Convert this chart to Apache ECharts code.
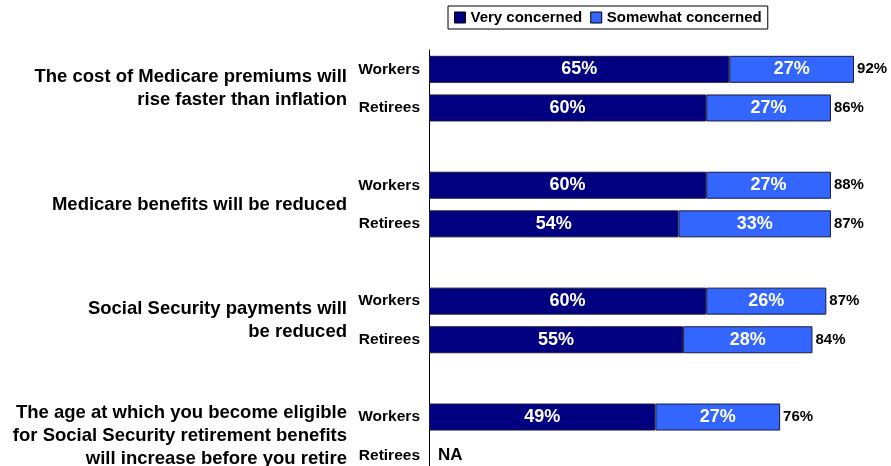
<!DOCTYPE html>
<html>
<head>
<meta charset="utf-8">
<script src="https://cdn.jsdelivr.net/npm/echarts@6/dist/echarts.min.js"></script>
<style>
html,body{margin:0;padding:0;background:#fff;}
#chart{width:891px;height:466px;}
</style>
</head>
<body>
<div id="chart"></div>
<script>
// ---- data ----
var groupTitles = [
  'The cost of Medicare premiums will\nrise faster than inflation',
  'Medicare benefits will be reduced',
  'Social Security payments will\nbe reduced',
  'The age at which you become eligible\nfor Social Security retirement benefits\nwill increase before you retire'
];
var rowNames = ['Workers', 'Retirees'];
var veryConcerned = [[65, 60], [60, 54], [60, 55], [49, null]];
var somewhatConcerned = [[27, 27], [27, 33], [26, 28], [27, null]];
var totalLabels = [['92%', '86%'], ['88%', '87%'], ['87%', '84%'], ['76%', 'NA']];
var seriesNames = ['Very concerned', 'Somewhat concerned'];

// ---- build category slots (2 rows + spacer per group) ----
var cats = [], veryData = [], someData = [], totalData = [], totalText = [], titleSlots = [];
groupTitles.forEach(function (t, g) {
  rowNames.forEach(function (r, i) {
    cats.push('c' + cats.length);
    veryData.push(veryConcerned[g][i]);
    someData.push(somewhatConcerned[g][i]);
    totalData.push(0);
    totalText.push(totalLabels[g][i]);
  });
  titleSlots.push(cats.length - 1.5);
  if (g < groupTitles.length - 1) {
    cats.push('c' + cats.length);
    veryData.push(null); someData.push(null); totalData.push(null); totalText.push('');
  }
});
var catLabel = function (v, idx) {
  var k = idx % 3;
  return k < 2 ? rowNames[k] : '';
};

var FONT = '"Liberation Sans", Arial, sans-serif';
var chart = echarts.init(document.getElementById('chart'));
var option = {
  animation: false,
  textStyle: { fontFamily: FONT },
  legend: {
    data: seriesNames,
    left: 448, top: 6,
    icon: 'rect',
    itemWidth: 11, itemHeight: 11, itemGap: 8,
    padding: [4, 6],
    borderColor: '#000', borderWidth: 1,
    itemStyle: { borderColor: '#000', borderWidth: 1 },
    textStyle: { fontFamily: FONT, fontWeight: 'bold', fontSize: 15, color: '#000' }
  },
  grid: { left: 429, right: 0, top: 50, height: 425, containLabel: false, outerBoundsMode: 'none' },
  xAxis: { type: 'value', min: 0, max: 100, show: false },
  yAxis: {
    type: 'category', data: cats, inverse: true,
    axisLine: { lineStyle: { color: '#000', width: 1 } },
    axisTick: { show: false },
    axisLabel: { formatter: catLabel, margin: 9, color: '#000', fontWeight: 'bold', fontSize: 15.5, fontFamily: FONT }
  },
  series: [
    {
      name: seriesNames[0], type: 'bar', stack: 's', data: veryData, barWidth: 27,
      itemStyle: { color: '#000080', borderColor: '#1a1a3a', borderWidth: 1 },
      label: { show: true, position: 'inside', color: '#fff', fontWeight: 'bold', fontSize: 18, fontFamily: FONT, formatter: '{c}%' }
    },
    {
      name: seriesNames[1], type: 'bar', stack: 's', data: someData, barWidth: 27,
      itemStyle: { color: '#3366FF', borderColor: '#1a1a3a', borderWidth: 1 },
      label: { show: true, position: 'inside', color: '#fff', fontWeight: 'bold', fontSize: 18, fontFamily: FONT, formatter: '{c}%' }
    },
    {
      name: 'total', type: 'bar', stack: 's', data: totalData, barWidth: 27,
      itemStyle: { color: 'transparent', borderWidth: 0 },
      label: {
        show: true, position: 'right', distance: 3,
        formatter: function (p) {
          var t = totalText[p.dataIndex];
          return t === 'NA' ? '{na|' + t + '}' : '{t|' + t + '}';
        },
        rich: {
          t: { fontWeight: 'bold', fontSize: 15, color: '#000', fontFamily: FONT },
          na: { fontWeight: 'bold', fontSize: 17, color: '#000', fontFamily: FONT, padding: [0, 0, 0, 6] }
        }
      }
    }
  ]
};
chart.setOption(option);

// group titles positioned through the axis scale
var xRight = chart.convertToPixel({ gridIndex: 0 }, [0, 0])[0] - 82;
var graphics = groupTitles.map(function (t, g) {
  var y0 = chart.convertToPixel({ yAxisIndex: 0 }, Math.floor(titleSlots[g]));
  var y1 = chart.convertToPixel({ yAxisIndex: 0 }, Math.ceil(titleSlots[g]));
  return {
    type: 'text', x: xRight, y: (y0 + y1) / 2,
    style: {
      text: t, align: 'right', verticalAlign: 'middle',
      font: 'bold 18.5px ' + FONT, lineHeight: 23, fill: '#000'
    }
  };
});
chart.setOption({ graphic: graphics });
</script>
</body>
</html>
